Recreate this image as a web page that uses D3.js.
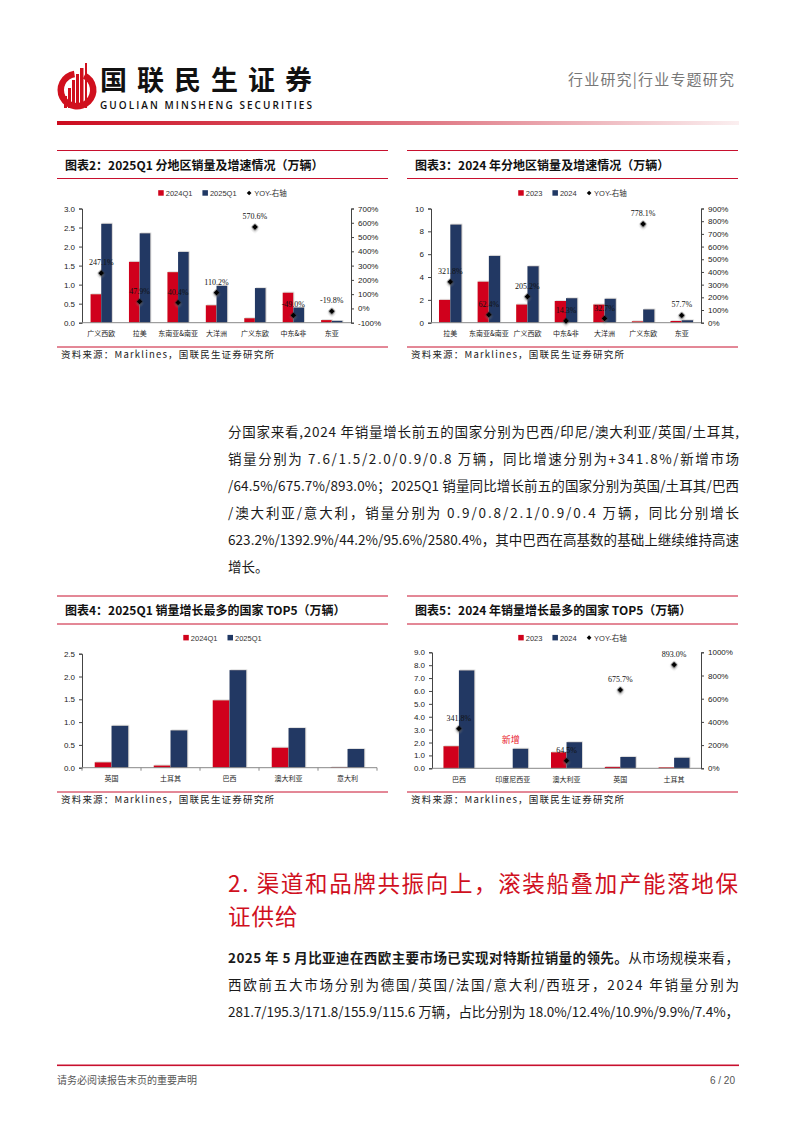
<!DOCTYPE html>
<html>
<head>
<meta charset="utf-8">
<script src="https://cdn.jsdelivr.net/npm/d3@7"></script>
<style>
body { margin: 0; background: #fff; }
svg { display: block; }
</style>
</head>
<body>
<svg id="page" width="794" height="1123"></svg>
<script>
// ---- data ----
var regionsQ1 = ["广义西欧", "拉美", "东南亚&南亚", "大洋洲", "广义东欧", "中东&非", "东亚"];
var salesQ1_2024 = [0.75, 1.60, 1.33, 0.46, 0.12, 0.79, 0.07];
var salesQ1_2025 = [2.60, 2.35, 1.86, 0.97, 0.91, 0.40, 0.05];
var yoyQ1 = [247.1, 47.9, 40.4, 110.2, 570.6, -49.0, -19.8];

var regions2024 = ["拉美", "东南亚&南亚", "广义西欧", "中东&非", "大洋洲", "广义东欧", "东亚"];
var sales2023 = [2.0, 3.6, 1.6, 1.9, 1.6, 0.13, 0.15];
var sales2024 = [8.6, 5.85, 4.95, 2.15, 2.1, 1.17, 0.22];
var yoy2024 = [321.8, 62.4, 205.2, 14.3, 32.7, 778.1, 57.7];

var countriesQ1 = ["英国", "土耳其", "巴西", "澳大利亚", "意大利"];
var cSalesQ1_2024 = [0.12, 0.05, 1.48, 0.44, 0.015];
var cSalesQ1_2025 = [0.92, 0.82, 2.14, 0.87, 0.41];

var countries2024 = ["巴西", "印度尼西亚", "澳大利亚", "英国", "土耳其"];
var cSales2023 = [1.72, 0, 1.25, 0.11, 0.08];
var cSales2024 = [7.6, 1.52, 2.03, 0.88, 0.82];
var cYoy2024 = [341.8, null, 64.5, 675.7, 893.0];

var ticksL2 = [0, 0.5, 1.0, 1.5, 2.0, 2.5, 3.0];
var ticksR2 = [-100, 0, 100, 200, 300, 400, 500, 600, 700];
var ticksL3 = [0, 2, 4, 6, 8, 10];
var ticksR3 = [0, 100, 200, 300, 400, 500, 600, 700, 800, 900];
var ticksL4 = [0, 0.5, 1.0, 1.5, 2.0, 2.5];
var ticksL5 = [0, 1, 2, 3, 4, 5, 6, 7, 8, 9];
var ticksR5 = [0, 200, 400, 600, 800, 1000];

var RED = "#d0021b";
var BLUE = "#203864";
var LINE_RED = "#c8102e";
var CJK = "'Noto Sans CJK SC', 'Noto Sans', sans-serif";

var svg = d3.select("#page");

var defs = svg.append("defs");
var grad = defs.append("linearGradient").attr("id", "hdr").attr("x1", "0%").attr("x2", "100%");
grad.append("stop").attr("offset", "0%").attr("stop-color", "#cc0a1e");
grad.append("stop").attr("offset", "55%").attr("stop-color", "#e07a86");
grad.append("stop").attr("offset", "100%").attr("stop-color", "#fbeff0");
defs.append("filter").attr("id", "shd").attr("x", "-50%").attr("y", "-50%").attr("width", "200%").attr("height", "200%")
    .append("feDropShadow").attr("dx", 1.2).attr("dy", 1.2).attr("stdDeviation", 0.9)
    .attr("flood-color", "#777").attr("flood-opacity", 0.6);
defs.append("filter").attr("id", "bshd").attr("x", "-20%").attr("y", "-20%").attr("width", "140%").attr("height", "140%")
    .append("feDropShadow").attr("dx", 0.8).attr("dy", -0.6).attr("stdDeviation", 0.5)
    .attr("flood-color", "#bbb").attr("flood-opacity", 0.7);

// ---- header ----
var logo = svg.append("g");
logo.append("path")
    .attr("d", d3.arc().innerRadius(13).outerRadius(19.5).startAngle(Math.PI * 0.15).endAngle(Math.PI * 1.95)())
    .attr("transform", "translate(77,90)")
    .attr("fill", "#d0101e");
[[64, 96, 3], [68, 88, 3], [72, 80, 3], [76, 74, 3], [80, 68, 3.5], [85, 63, 2]].forEach(function(b) {
    logo.append("rect").attr("x", b[0]).attr("y", b[1]).attr("width", b[2]).attr("height", 108 - b[1])
        .attr("fill", "#d0101e");
});
svg.append("text").attr("x", 100).attr("y", 90).text("国联民生证券")
    .style("font-family", CJK).style("font-size", "27px").style("font-weight", "bold")
    .attr("textLength", 212).attr("fill", "#111");
svg.append("text").attr("x", 100).attr("y", 109).text("GUOLIAN MINSHENG SECURITIES")
    .style("font-family", "'Open Sans', 'DejaVu Sans', sans-serif").style("font-size", "10px")
    .style("font-weight", "600").attr("textLength", 212).attr("fill", "#111");
svg.append("text").attr("x", 734).attr("y", 85).attr("text-anchor", "end").text("行业研究|行业专题研究")
    .style("font-family", CJK).style("font-size", "15px").attr("fill", "#777").attr("textLength", 166);
svg.append("rect").attr("x", 57).attr("y", 121).attr("width", 682).attr("height", 4).attr("fill", "url(#hdr)");

// ---- chart helper ----
function drawChart(c) {
    var g = svg.append("g");
    g.append("line").attr("x1", c.fx0).attr("x2", c.fx1).attr("y1", c.top).attr("y2", c.top)
        .attr("stroke", LINE_RED).attr("stroke-width", 1);
    g.append("text").attr("x", c.fx0 + 8).attr("y", c.top + 19).text(c.title)
        .style("font-family", CJK).style("font-size", "12px").style("font-weight", "bold").attr("fill", "#111");
    g.append("line").attr("x1", c.fx0).attr("x2", c.fx1).attr("y1", c.top + 28).attr("y2", c.top + 28)
        .attr("stroke", LINE_RED).attr("stroke-width", 1);
    g.append("line").attr("x1", c.fx0).attr("x2", c.fx1).attr("y1", c.bottomLine).attr("y2", c.bottomLine)
        .attr("stroke", LINE_RED).attr("stroke-width", 1);
    g.append("text").attr("x", c.fx0 + 4).attr("y", c.bottomLine + 11).text("资料来源：Marklines，国联民生证券研究所")
        .style("font-family", CJK).style("font-size", "9.5px").style("letter-spacing", "1.2px").attr("fill", "#222");

    // legend
    var lg = g.append("g");
    var lx = 0;
    c.legend.forEach(function(it) {
        if (it.type === "diamond") {
            lg.append("path").attr("d", d3.symbol(d3.symbolSquare, 11)())
                .attr("transform", "translate(" + (lx + 2.5) + ",0) rotate(45)").attr("fill", "#000");
        } else {
            lg.append("rect").attr("x", lx).attr("y", -2.8).attr("width", 5.5).attr("height", 5.5).attr("fill", it.color);
        }
        var t = lg.append("text").attr("x", lx + 7.5).attr("y", 2.8).text(it.label)
            .style("font-family", "'Liberation Sans', Arial, " + CJK).style("font-size", "7.5px").attr("fill", "#333");
        lx += 7.5 + t.node().getComputedTextLength() + 10;
    });
    var lw = lx - 10;
    lg.attr("transform", "translate(" + ((c.fx0 + c.fx1) / 2 - lw / 2) + "," + c.legendY + ")");

    var x = d3.scaleBand().domain(c.cats).range([c.left, c.right]);
    var y = d3.scaleLinear().domain([0, c.yMax]).range([c.y0, c.yTop]);

    // bars
    c.cats.forEach(function(cat, i) {
        var cx = x(cat) + x.bandwidth() / 2;
        if (c.s1[i] > 0) {
            g.append("rect").attr("x", cx - c.barW).attr("y", y(c.s1[i])).attr("width", c.barW)
                .attr("height", c.y0 - y(c.s1[i])).attr("fill", RED).attr("filter", "url(#bshd)");
        }
        g.append("rect").attr("x", cx).attr("y", y(c.s2[i])).attr("width", c.barW)
            .attr("height", c.y0 - y(c.s2[i])).attr("fill", BLUE).attr("filter", "url(#bshd)");
    });

    // axes
    var axL = d3.axisLeft(y).tickValues(c.ticksL).tickFormat(c.fmtL).tickSize(3).tickPadding(4);
    var gl = g.append("g").attr("transform", "translate(" + c.left + ",0)").call(axL);
    styleAxis(gl);
    var gx = g.append("g").attr("transform", "translate(0," + c.y0 + ")");
    gx.append("line").attr("x1", c.left).attr("x2", c.right).attr("stroke", "#888").attr("stroke-width", 1);
    if (c.bandTicks) {
        c.cats.forEach(function(cat) {
            gx.append("line").attr("x1", x(cat)).attr("x2", x(cat)).attr("y1", 0).attr("y2", 3).attr("stroke", "#888");
        });
        gx.append("line").attr("x1", c.right).attr("x2", c.right).attr("y1", 0).attr("y2", 3).attr("stroke", "#888");
    }
    c.cats.forEach(function(cat) {
        gx.append("text").attr("x", x(cat) + x.bandwidth() / 2).attr("y", 13.5).attr("text-anchor", "middle")
            .text(cat).style("font-family", CJK).style("font-size", "7px").attr("fill", "#222");
    });

    if (c.yoy) {
        var yr = d3.scaleLinear().domain([c.rMin, c.rMax]).range([c.y0, c.yTop]);
        var axR = d3.axisRight(yr).tickValues(c.ticksR).tickFormat(function(d) { return d + "%"; })
            .tickSize(3).tickPadding(4);
        var gr = g.append("g").attr("transform", "translate(" + c.right + ",0)").call(axR);
        styleAxis(gr);
        c.cats.forEach(function(cat, i) {
            var v = c.yoy[i];
            if (v === null) return;
            var cx = x(cat) + x.bandwidth() / 2;
            g.append("path").attr("d", d3.symbol(d3.symbolSquare, 22)())
                .attr("transform", "translate(" + cx + "," + yr(v) + ") rotate(45)")
                .attr("fill", "#000").attr("filter", "url(#shd)");
            g.append("text").attr("x", cx).attr("y", yr(v) - 8).attr("text-anchor", "middle")
                .text(v.toFixed(1) + "%").style("font-family", "'Liberation Serif', 'Times New Roman', serif")
                .style("font-size", "8px").attr("fill", "#111");
        });
    }
    if (c.note) {
        g.append("text").attr("x", x(c.note.cat) + x.bandwidth() / 2 - 2).attr("y", y(c.note.v))
            .attr("text-anchor", "middle").text(c.note.text)
            .style("font-family", "'Noto Sans CJK SC', serif").style("font-size", "9px").attr("fill", "#e8202a");
    }
    return g;
}

function styleAxis(ga) {
    ga.select(".domain").attr("stroke", "#444");
    ga.selectAll(".tick line").attr("stroke", "#444");
    ga.selectAll(".tick text").style("font-family", "'Liberation Sans', Arial, sans-serif")
        .style("font-size", "8px").attr("fill", "#222");
}

var fmt1 = d3.format(".1f");

drawChart({
    fx0: 57, fx1: 388, top: 150.5, bottomLine: 347, legendY: 193,
    title: "图表2：2025Q1 分地区销量及增速情况（万辆）",
    legend: [{label: "2024Q1", color: RED}, {label: "2025Q1", color: BLUE}, {label: "YOY-右轴", type: "diamond"}],
    cats: regionsQ1, s1: salesQ1_2024, s2: salesQ1_2025, yoy: yoyQ1,
    left: 82, right: 351, yTop: 208.5, y0: 322.7, barW: 10.7,
    yMax: 3, ticksL: ticksL2, fmtL: fmt1, rMin: -100, rMax: 700, ticksR: ticksR2
});

drawChart({
    fx0: 407, fx1: 738, top: 150.5, bottomLine: 347, legendY: 193,
    title: "图表3：2024 年分地区销量及增速情况（万辆）",
    legend: [{label: "2023", color: RED}, {label: "2024", color: BLUE}, {label: "YOY-右轴", type: "diamond"}],
    cats: regions2024, s1: sales2023, s2: sales2024, yoy: yoy2024,
    left: 431, right: 701, yTop: 208.5, y0: 322.7, barW: 11.3,
    yMax: 10, ticksL: ticksL3, fmtL: d3.format("d"), rMin: 0, rMax: 900, ticksR: ticksR3
});

drawChart({
    fx0: 57, fx1: 388, top: 596, bottomLine: 792, legendY: 637.7,
    title: "图表4：2025Q1 销量增长最多的国家 TOP5（万辆）",
    legend: [{label: "2024Q1", color: RED}, {label: "2025Q1", color: BLUE}],
    cats: countriesQ1, s1: cSalesQ1_2024, s2: cSalesQ1_2025, yoy: null, bandTicks: true,
    left: 82, right: 377, yTop: 653.7, y0: 767.7, barW: 16.8,
    yMax: 2.5, ticksL: ticksL4, fmtL: fmt1
});

drawChart({
    fx0: 407, fx1: 738, top: 596, bottomLine: 792, legendY: 637.7,
    title: "图表5：2024 年销量增长最多的国家 TOP5（万辆）",
    legend: [{label: "2023", color: RED}, {label: "2024", color: BLUE}, {label: "YOY-右轴", type: "diamond"}],
    cats: countries2024, s1: cSales2023, s2: cSales2024, yoy: cYoy2024,
    left: 432, right: 701, yTop: 652.3, y0: 768.3, barW: 15.5,
    yMax: 9, ticksL: ticksL5, fmtL: fmt1, rMin: 0, rMax: 1000, ticksR: ticksR5,
    note: {cat: "印度尼西亚", v: 2.0, text: "新增"}
});

// ---- body text ----
function para(lines, x0, y0, step, width, size) {
    lines.forEach(function(ln, i) {
        var t = svg.append("text").attr("x", x0).attr("y", y0 + i * step)
            .style("font-family", CJK).style("font-size", size + "px").attr("fill", "#1a1a1a");
        (Array.isArray(ln.parts) ? ln.parts : [{s: ln.s}]).forEach(function(p) {
            t.append("tspan").text(p.s).style("font-weight", p.b ? "bold" : "normal");
        });
        if (ln.full) t.attr("textLength", width).attr("lengthAdjust", "spacing");
    });
}

para([
    {s: "分国家来看,2024 年销量增长前五的国家分别为巴西/印尼/澳大利亚/英国/土耳其,", full: true},
    {s: "销量分别为 7.6/1.5/2.0/0.9/0.8 万辆，同比增速分别为+341.8%/新增市场", full: true},
    {s: "/64.5%/675.7%/893.0%；2025Q1 销量同比增长前五的国家分别为英国/土耳其/巴西", full: true},
    {s: "/澳大利亚/意大利，销量分别为 0.9/0.8/2.1/0.9/0.4 万辆，同比分别增长", full: true},
    {s: "623.2%/1392.9%/44.2%/95.6%/2580.4%，其中巴西在高基数的基础上继续维持高速", full: true},
    {s: "增长。"}
], 228, 437, 27, 511, 13.5);

svg.append("text").attr("x", 228).attr("y", 892).text("2. 渠道和品牌共振向上，滚装船叠加产能落地保")
    .style("font-family", CJK).style("font-size", "22.5px").attr("fill", "#d0101e")
    .attr("textLength", 510).attr("lengthAdjust", "spacing");
svg.append("text").attr("x", 228).attr("y", 925).text("证供给")
    .style("font-family", CJK).style("font-size", "22.5px").style("letter-spacing", "1px").attr("fill", "#d0101e");

para([
    {parts: [{s: "2025 年 5 月比亚迪在西欧主要市场已实现对特斯拉销量的领先。", b: true}, {s: "从市场规模来看，"}], full: true},
    {s: "西欧前五大市场分别为德国/英国/法国/意大利/西班牙，2024 年销量分别为", full: true},
    {s: "281.7/195.3/171.8/155.9/115.6 万辆，占比分别为 18.0%/12.4%/10.9%/9.9%/7.4%，", full: true}
], 228, 963, 27, 511, 13.5);

// ---- footer ----
svg.append("rect").attr("x", 57).attr("y", 1064.5).attr("width", 682).attr("height", 1.6).attr("fill", LINE_RED);
svg.append("text").attr("x", 57).attr("y", 1084).text("请务必阅读报告末页的重要声明")
    .style("font-family", CJK).style("font-size", "10px").attr("fill", "#555");
svg.append("text").attr("x", 735).attr("y", 1084).attr("text-anchor", "end").text("6 / 20")
    .style("font-family", "'Liberation Sans', sans-serif").style("font-size", "10px").attr("fill", "#555");
</script>
</body>
</html>
